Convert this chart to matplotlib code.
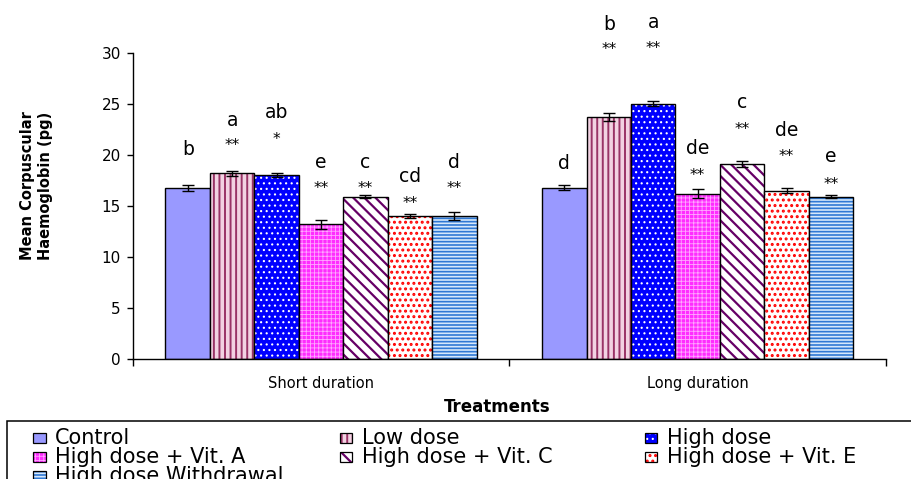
import matplotlib
matplotlib.use('Agg')
import matplotlib.pyplot as plt
import matplotlib.patches as mpatches
import numpy as np

plt.rcParams['font.family'] = ['DejaVu Sans']

# data
groups = ['Short duration', 'Long duration']
treatments = ['Control', 'Low dose', 'High dose', 'High dose + Vit. A',
              'High dose + Vit. C', 'High dose + Vit. E', 'High dose Withdrawal']
short_vals = [16.8, 18.2, 18.0, 13.2, 15.9, 14.0, 14.0]
long_vals = [16.8, 23.7, 25.0, 16.2, 19.1, 16.5, 15.9]
short_err = [0.3, 0.25, 0.2, 0.45, 0.15, 0.2, 0.4]
long_err = [0.25, 0.4, 0.25, 0.45, 0.3, 0.25, 0.15]
short_letters = ['b', 'a', 'ab', 'e', 'c', 'cd', 'd']
long_letters = ['d', 'b', 'a', 'de', 'c', 'de', 'e']
short_stars = ['', '**', '*', '**', '**', '**', '**']
long_stars = ['', '**', '**', '**', '**', '**', '**']

# annotation heights (as placed in the original figure)
short_letter_y = [20.5, 23.4, 24.1, 19.3, 19.3, 17.9, 19.3]
long_letter_y = [19.2, 32.8, 33.0, 20.6, 25.1, 22.4, 19.8]
short_star_y = [0, 21.3, 21.9, 17.1, 17.1, 15.6, 17.1]
long_star_y = [0, 30.7, 30.8, 18.4, 22.9, 20.2, 17.5]

# fill styles: (face, hatch, hatch colour, hatch width)
styles = [
    ('#9999ff', None, None, 0),
    ('#f2d2e2', '|||', '#993366', 1.4),
    ('#0000ff', '...', '#ffffff', 0.8),
    ('#ff2cff', '++++', '#ffa8ff', 0.6),
    ('#ffffff', '\\\\\\', '#660066', 1.6),
    ('#ffffff', '...', '#ff0000', 1.4),
    ('#d6e8fb', '-----', '#2f78d4', 1.2),
]

plt.rcParams['hatch.linewidth'] = 1.2


def set_hw(patch, lw):
    if hasattr(patch, 'set_hatch_linewidth'):
        patch.set_hatch_linewidth(lw)


W, H = 912, 479
fig = plt.figure(figsize=(W / 100, H / 100), dpi=100)
ax = fig.add_axes([132.7 / W, 1 - 359.3 / H, (886 - 132.7) / W, (359.3 - 52.7) / H])

bw = 0.118
centers = np.array([0.5, 1.5])
all_vals = [short_vals, long_vals]
all_err = [short_err, long_err]
all_letters = [short_letters, long_letters]
all_stars = [short_stars, long_stars]
all_letter_y = [short_letter_y, long_letter_y]
all_star_y = [short_star_y, long_star_y]

for i, (face, hatch, hcol, hw) in enumerate(styles):
    xs = centers + (i - 3) * bw
    vals = [all_vals[0][i], all_vals[1][i]]
    errs = [all_err[0][i], all_err[1][i]]
    if hatch:
        bars = ax.bar(xs, vals, bw, color=face, edgecolor=hcol, linewidth=0, hatch=hatch)
        for p in bars:
            set_hw(p, hw)
        ax.bar(xs, vals, bw, fill=False, edgecolor='black', linewidth=1.0)
    else:
        ax.bar(xs, vals, bw, color=face, edgecolor='black', linewidth=1.0)
    ax.errorbar(xs, vals, yerr=errs, fmt='none', ecolor='black', elinewidth=1.0,
                capsize=4.5, capthick=1.0)
    for g in range(2):
        ax.text(xs[g], all_letter_y[g][i], all_letters[g][i], ha='center', va='center',
                fontsize=13.5)
        if all_stars[g][i]:
            ax.annotate(all_stars[g][i], (xs[g], all_star_y[g][i]), xytext=(0, -6),
                        textcoords='offset points', ha='center', va='baseline',
                        fontsize=11, annotation_clip=False)

ax.set_xlim(0, 2)
ax.set_ylim(0, 30)
ax.set_yticks(np.arange(0, 31, 5))
ax.set_xticks([0, 1, 2])
ax.set_xticklabels([])
ax.set_xticks(centers, minor=True)
ax.set_xticklabels(groups, minor=True, fontsize=10.5)
ax.tick_params(axis='x', which='major', direction='out', length=5, width=1)
ax.tick_params(axis='x', which='minor', length=0, pad=12)
ax.tick_params(axis='y', direction='out', length=4.5, width=1, labelsize=11, pad=4)
for s in ['top', 'right']:
    ax.spines[s].set_visible(False)
for s in ['left', 'bottom']:
    ax.spines[s].set_linewidth(1.0)

fig.text(36.5 / W, 1 - 186 / H, 'Mean Corpuscular\nHaemoglobin (pg)', rotation=90,
         ha='center', va='center', fontsize=10.5, fontweight='bold', multialignment='center')
fig.text(497 / W, 1 - 407 / H, 'Treatments', ha='center', va='center', fontsize=12,
         fontweight='bold')

# legend box (runs past the figure edge as in the original)
fig.add_artist(mpatches.Rectangle((7 / W, -0.05), 1.0, 1 - 421 / H + 0.05,
                                  transform=fig.transFigure, fill=False,
                                  edgecolor='black', linewidth=1.1))
col_x = [33, 340, 645]
row_y = [438, 457, 476]
pw, ph = 12.5, 10.5
for i, (face, hatch, hcol, hw) in enumerate(styles):
    r, c = divmod(i, 3)
    x0, yc = col_x[c], row_y[r]
    rect = (x0 / W, 1 - (yc + ph / 2) / H)
    if hatch:
        p = mpatches.Rectangle(rect, pw / W, ph / H, transform=fig.transFigure,
                               facecolor=face, edgecolor=hcol, linewidth=0, hatch=hatch)
        set_hw(p, hw)
        fig.add_artist(p)
        fig.add_artist(mpatches.Rectangle(rect, pw / W, ph / H, transform=fig.transFigure,
                                          fill=False, edgecolor='black', linewidth=0.9))
    else:
        fig.add_artist(mpatches.Rectangle(rect, pw / W, ph / H, transform=fig.transFigure,
                                          facecolor=face, edgecolor='black', linewidth=0.9))
    fig.text((x0 + 22) / W, 1 - yc / H, treatments[i], ha='left', va='center', fontsize=15)

fig.savefig('out.png', dpi=100)
